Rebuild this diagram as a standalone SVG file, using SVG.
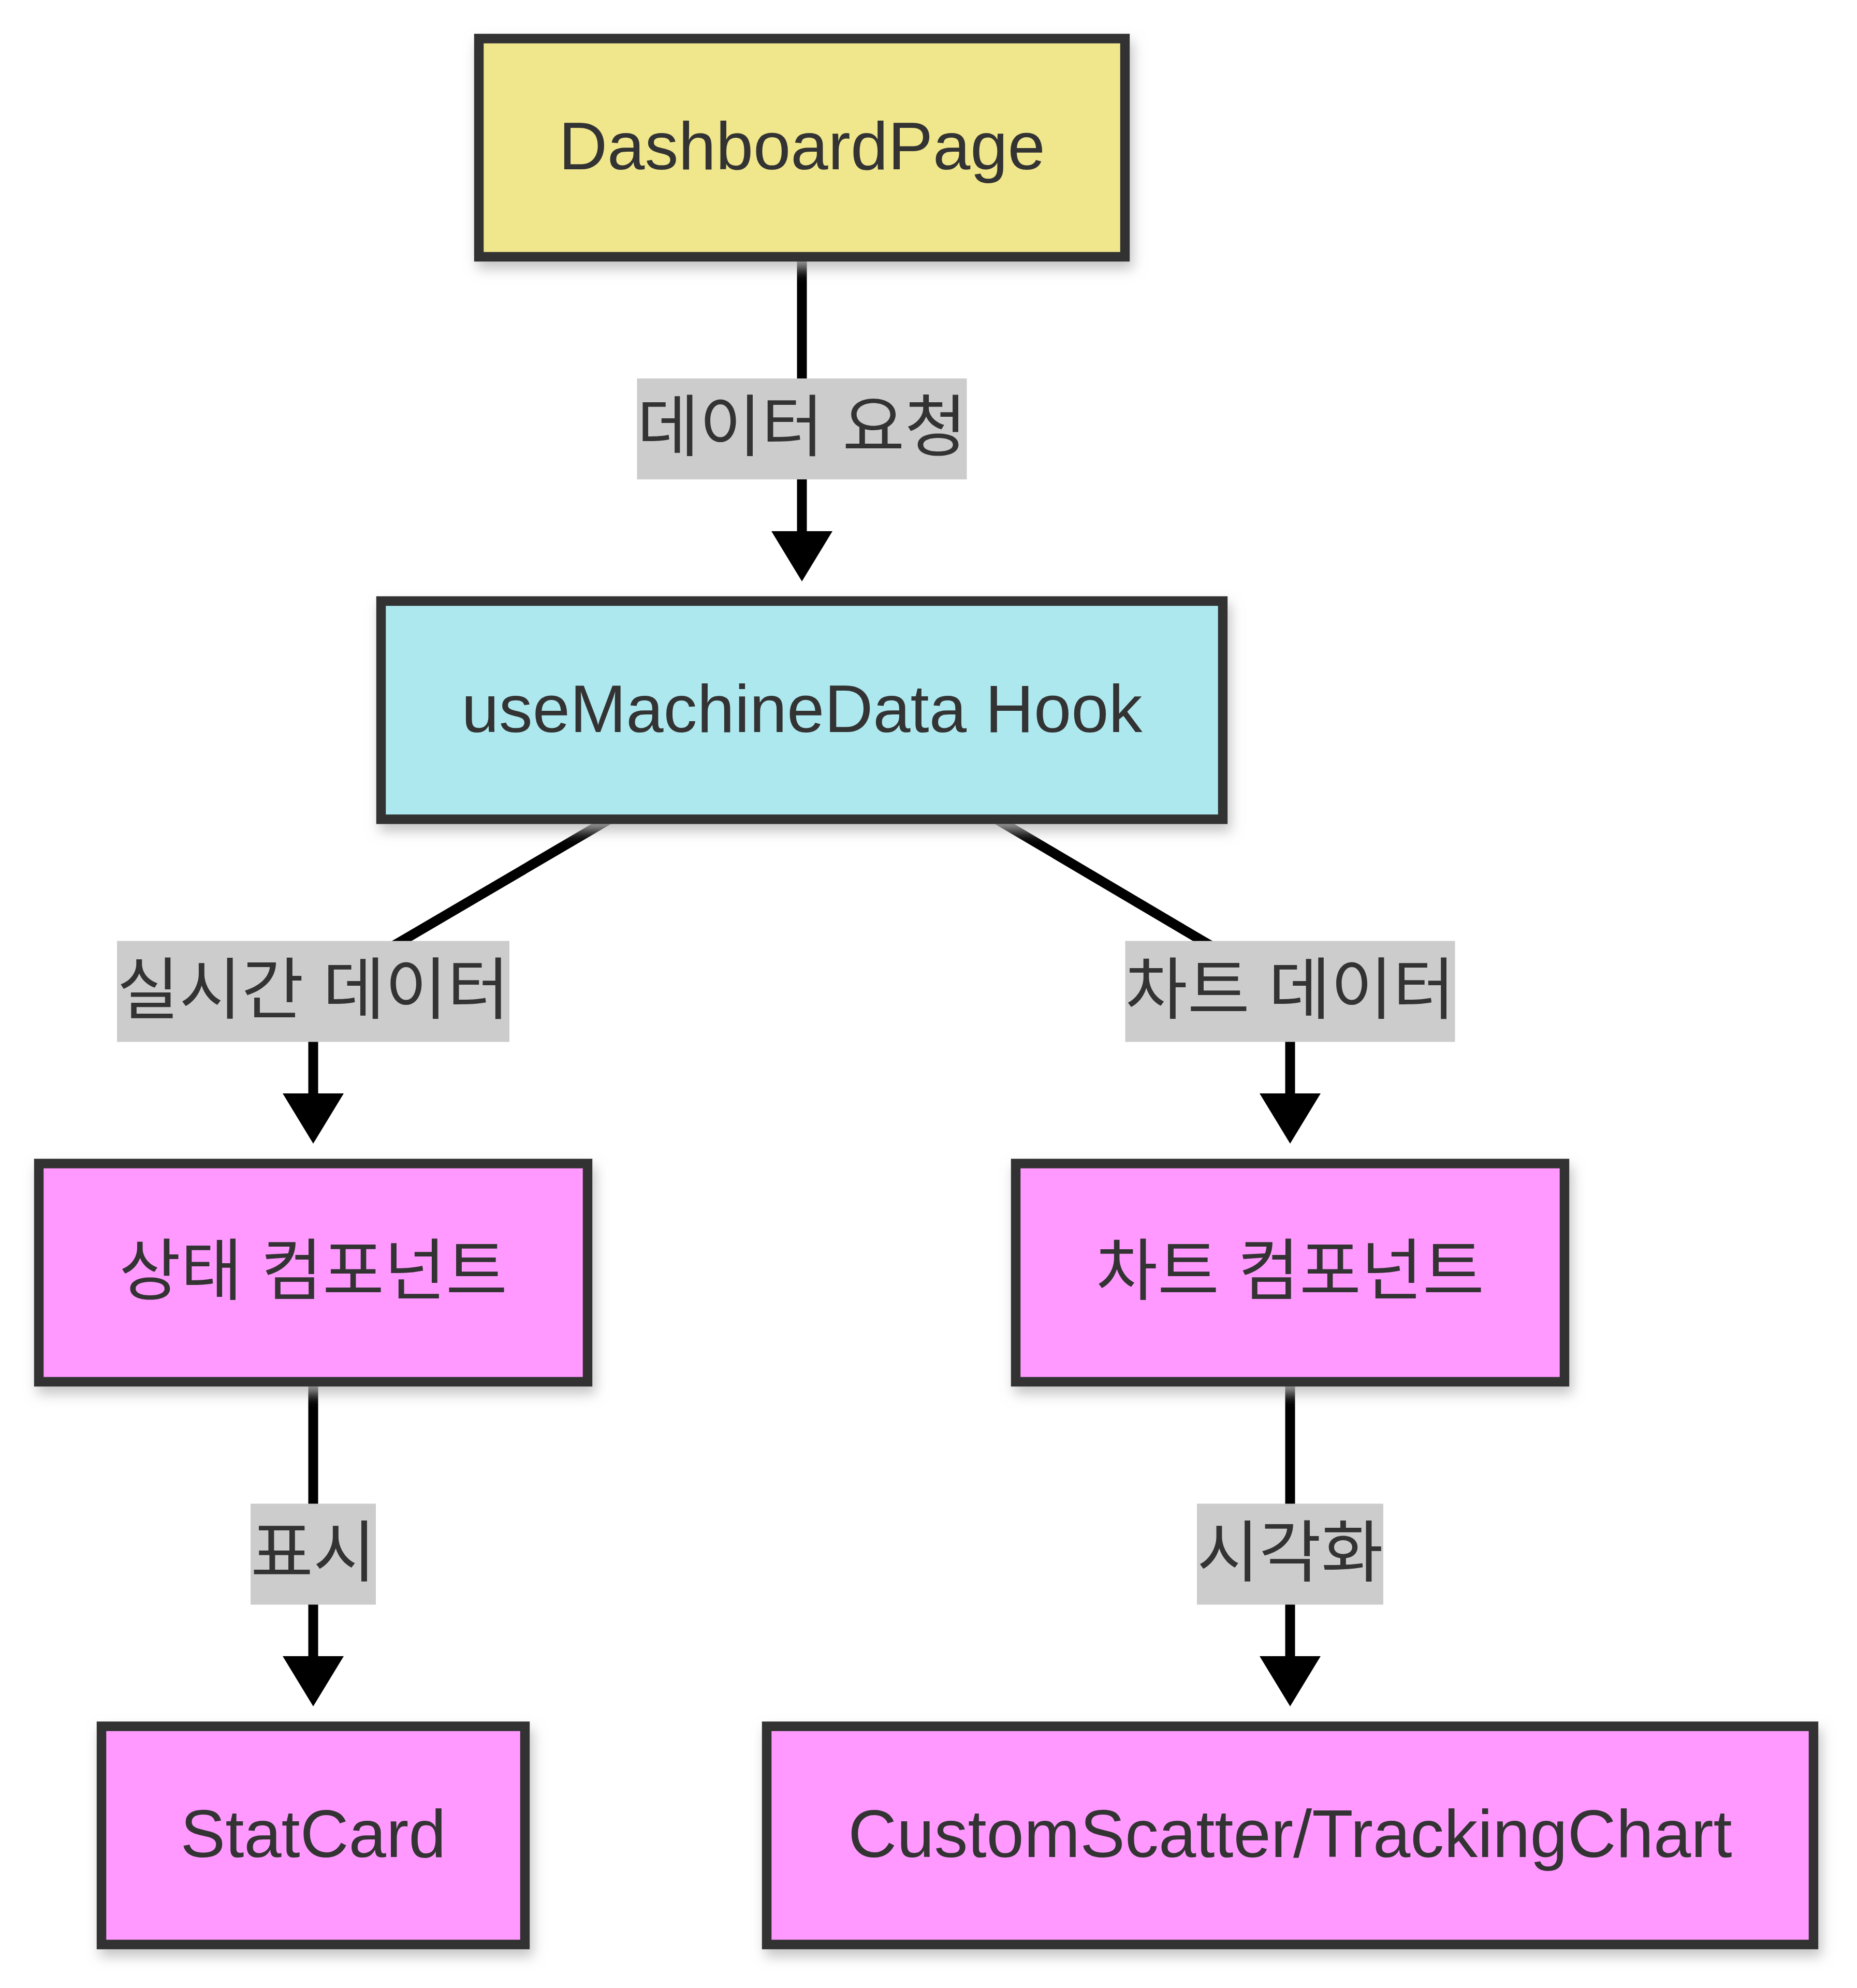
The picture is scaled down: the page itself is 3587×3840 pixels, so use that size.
<svg xmlns="http://www.w3.org/2000/svg" width="3587" height="3840" viewBox="0 0 3587 3840">
<defs>
<filter id="shadow" x="-10%" y="-20%" width="120%" height="150%">
<feDropShadow dx="6" dy="14" stdDeviation="12" flood-color="#b9b9b9" flood-opacity="0.85"/>
</filter>
<style>
.node rect{stroke:#333333;stroke-width:18.5;filter:url(#shadow)}
.yellow{fill:#F0E68C}
.cyan{fill:#AEE8EF}
.pink{fill:#FF99FF}
.txt{font-family:"Liberation Sans","Noto Sans CJK KR",sans-serif;font-size:130px;fill:#333333;text-anchor:middle}
.edge{fill:none;stroke:#000000;stroke-width:19}
.head{fill:#000000}
.lbl{fill:#CCCCCC}
</style>
</defs>
<rect x="0" y="0" width="3587" height="3840" fill="#ffffff"/>

<g id="connectors">
<path class="edge" d="M1549 496 L1549 1030"/>
<polygon class="head" points="1490,1026 1608,1026 1549,1123"/>

<path class="edge" d="M1176 1583 L777 1817 L700 1861 Q605 1915 605 2000 L605 2116"/>
<polygon class="head" points="546,2112 664,2112 605,2209"/>

<path class="edge" d="M1926 1583 L2322 1817 L2400 1862 Q2492 1915 2492 2000 L2492 2116"/>
<polygon class="head" points="2433,2112 2551,2112 2492,2209"/>

<path class="edge" d="M605 2669 L605 3203"/>
<polygon class="head" points="546,3199 664,3199 605,3296"/>

<path class="edge" d="M2492 2669 L2492 3203"/>
<polygon class="head" points="2433,3199 2551,3199 2492,3296"/>

<g id="edge-labels">
<rect class="lbl" x="1230.5" y="731" width="637" height="195"/>
<text class="txt" x="1549" y="870" textLength="637" lengthAdjust="spacingAndGlyphs">데이터 요청</text>
<rect class="lbl" x="226" y="1817.5" width="758" height="195"/>
<text class="txt" x="605" y="1957" textLength="758" lengthAdjust="spacingAndGlyphs">실시간 데이터</text>
<rect class="lbl" x="2173.5" y="1817.5" width="637" height="195"/>
<text class="txt" x="2492" y="1957" textLength="637" lengthAdjust="spacingAndGlyphs">차트 데이터</text>
<rect class="lbl" x="484" y="2904.5" width="242" height="195"/>
<text class="txt" x="605" y="3044" textLength="242" lengthAdjust="spacingAndGlyphs">표시</text>
<rect class="lbl" x="2312" y="2904.5" width="360" height="195"/>
<text class="txt" x="2492" y="3044" textLength="360" lengthAdjust="spacingAndGlyphs">시각화</text>
</g>
</g>

<g id="DashboardPage" class="node">
<rect class="yellow" x="925" y="74.5" width="1248" height="421.5"/>
<text class="txt" x="1549" y="327">DashboardPage</text>
</g>

<g id="useMachineData" class="node">
<rect class="cyan" x="736" y="1161" width="1626" height="421.5"/>
<text class="txt" x="1549" y="1414">useMachineData Hook</text>
</g>

<g id="StatusComponent" class="node">
<rect class="pink" x="75" y="2247.5" width="1060" height="421.5"/>
<text class="txt" x="605" y="2500" textLength="750" lengthAdjust="spacingAndGlyphs">상태 컴포넌트</text>
</g>

<g id="ChartComponent" class="node">
<rect class="pink" x="1962" y="2247.5" width="1060" height="421.5"/>
<text class="txt" x="2492" y="2500" textLength="750" lengthAdjust="spacingAndGlyphs">차트 컴포넌트</text>
</g>

<g id="StatCard" class="node">
<rect class="pink" x="196" y="3334.5" width="818" height="421.5"/>
<text class="txt" x="605" y="3587">StatCard</text>
</g>

<g id="CustomScatter" class="node">
<rect class="pink" x="1481" y="3334.5" width="2022" height="421.5"/>
<text class="txt" x="2492" y="3587">CustomScatter/TrackingChart</text>
</g>
</svg>
